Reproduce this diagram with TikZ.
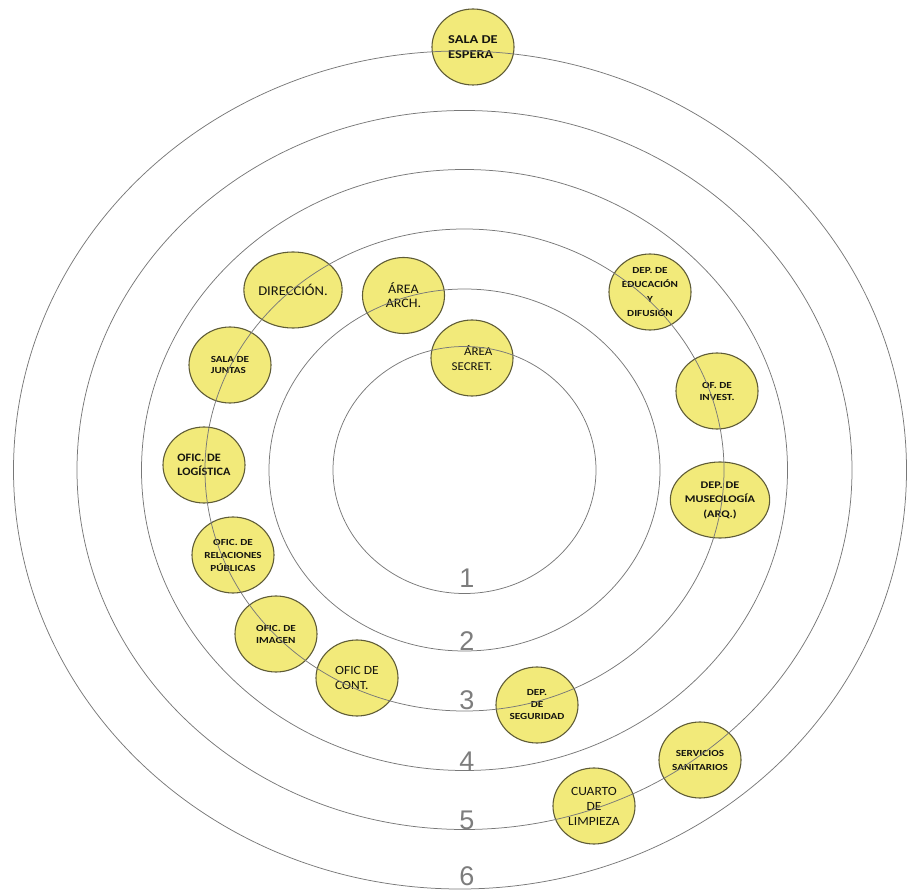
\documentclass[tikz,border=0pt]{standalone}
\usepackage{fontspec}
\setmainfont{Carlito}
\newfontfamily\fw[FakeStretch=1.2]{Carlito}
\newfontfamily\fn[FakeStretch=1.08]{Carlito}
\newfontfamily\fd{Liberation Sans}
\usetikzlibrary{shapes.geometric}
\pgfdeclarelayer{front}
\pgfsetlayers{main,front}
\definecolor{roomfill}{RGB}{242,234,122}
\definecolor{roomline}{RGB}{95,92,55}
\definecolor{ringline}{RGB}{120,120,120}
\definecolor{ringnumc}{RGB}{125,125,125}
\definecolor{roomtext}{RGB}{20,20,15}
\tikzset{
  room/.style={ellipse, draw=roomline, fill=roomfill, line width=1.1pt,
    minimum width=82pt, minimum height=76pt, inner sep=0pt, text=roomtext, align=center},
  ring/.style={draw=ringline, line width=0.75pt},
  ringnum/.style={font={\fd\fontsize{27}{27}\selectfont}, text=ringnumc, inner sep=0pt}
}
\begin{document}
\begin{tikzpicture}[x=1pt,y=-1pt]
\useasboundingbox (0,0) rectangle (908,890);
% rooms
\node[room, align=left, font={\fw\bfseries\fontsize{12}{15}\selectfont}] (esp) at (473,47) {SALA DE\\ESPERA};
\node[room, font={\fn\fontsize{13.5}{15}\selectfont}] (dir) at (293,290) {DIRECCIÓN.};
\node[room, font={\fn\fontsize{13}{14}\selectfont}] (arch) at (403.5,295.5) {ÁREA\\ARCH.};
\node[room, align=right, font={\fn\fontsize{12}{15}\selectfont}] (secr) at (472,358) {ÁREA\\SECRET.};
\node[room, font={\fw\bfseries\fontsize{9.3}{14.5}\selectfont}] (edu) at (650,292) {DEP. DE\\EDUCACIÓN\\Y\\DIFUSIÓN};
\node[room, font={\fw\bfseries\fontsize{9.3}{12}\selectfont}] (inv) at (717,391) {OF. DE\\INVEST.};
\node[room, font={\fw\bfseries\fontsize{10.2}{14.5}\selectfont}] (mus) at (720,500) {DEP. DE\\MUSEOLOGÍA\\(ARQ.)};
\node[room, align=left, font={\fw\bfseries\fontsize{9.3}{10.5}\selectfont}] (jun) at (230,365) {SALA DE\\JUNTAS};
\node[room, align=left, font={\fn\bfseries\fontsize{11.3}{14}\selectfont}] (log) at (204,465) {OFIC. DE\\LOGÍSTICA};
\node[room, font={\fw\bfseries\fontsize{9.3}{13}\selectfont}] (rel) at (233,555) {OFIC. DE\\RELACIONES\\PÚBLICAS};
\node[room, align=left, font={\fw\bfseries\fontsize{9.3}{12}\selectfont}] (img) at (276,634) {OFIC. DE\\IMAGEN};
\node[room, align=left, font={\fn\fontsize{12.5}{15}\selectfont}] (cont) at (357,678) {OFIC DE\\CONT.};
\node[room, font={\fw\bfseries\fontsize{9.3}{12}\selectfont}] (seg) at (537,705) {DEP.\\DE\\SEGURIDAD};
\node[room, font={\fw\bfseries\fontsize{9.3}{14}\selectfont}] (san) at (700,760) {SERVICIOS\\SANITARIOS};
\node[room, font={\fn\fontsize{12.5}{15}\selectfont}] (lim) at (594,806) {CUARTO\\DE\\LIMPIEZA};
% rings
\coordinate (ctr) at (464.5,470);
\coordinate (ctro) at (460,470);
\begin{pgfonlayer}{front}
\draw[ring] (ctr) ellipse [x radius=131.5pt, y radius=123.5pt];
\draw[ring] (ctr) ellipse [x radius=195.5pt, y radius=181pt];
\draw[ring] (ctr) ellipse [x radius=259.5pt, y radius=241pt];
\draw[ring] (ctr) ellipse [x radius=323pt, y radius=300.5pt];
\draw[ring] (ctr) ellipse [x radius=387.5pt, y radius=359.5pt];
\draw[ring] (ctro) ellipse [x radius=446.5pt, y radius=419pt];
\end{pgfonlayer}
% ring numbers
\node[ringnum] (n1) at (467,578) {1};
\node[ringnum] (n2) at (467,641) {2};
\node[ringnum] (n3) at (467,700) {3};
\node[ringnum] (n4) at (467,761) {4};
\node[ringnum] (n5) at (467,820) {5};
\node[ringnum] (n6) at (467,876) {6};
\end{tikzpicture}
\end{document}
